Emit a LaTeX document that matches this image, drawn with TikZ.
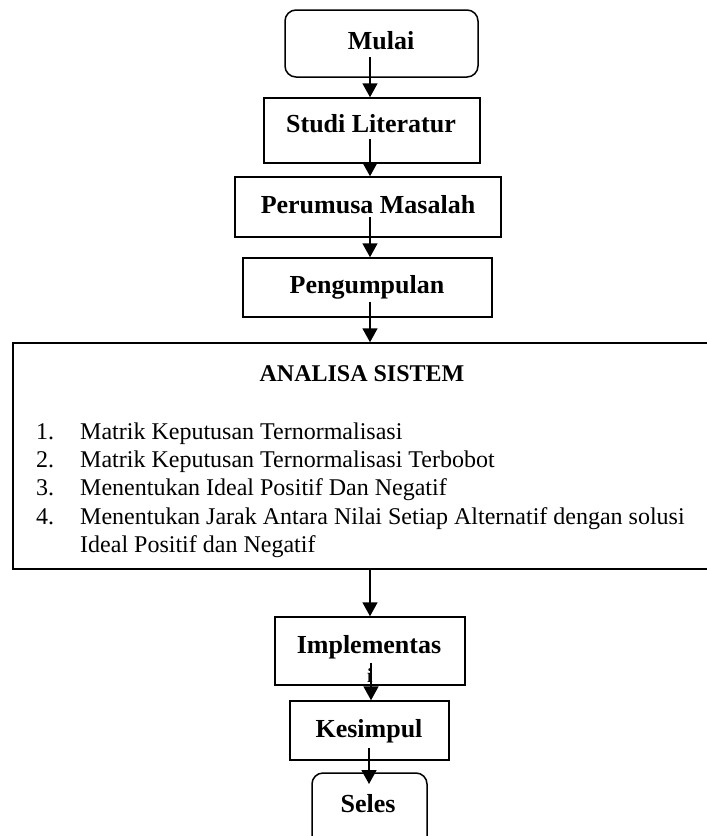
\documentclass[tikz,border=0pt]{standalone}
\usepackage{fontspec}
\setmainfont{Liberation Serif}
\usetikzlibrary{arrows.meta,calc}
\begin{document}
\begin{tikzpicture}[x=1pt,y=-1pt,
  boxshape/.style={draw, line width=1.5pt, inner sep=0pt},
  rbox/.style={boxshape, rounded corners=11pt},
  bt/.style={font=\fontsize{26}{30}\selectfont\bfseries, anchor=base, inner sep=0pt},
  lt/.style={font=\fontsize{24}{28}\selectfont, anchor=base west, inner sep=0pt},
  arr/.style={line width=1.8pt, -{Triangle[length=14pt,width=15pt]}}]
\useasboundingbox (0,0) rectangle (707,836);
\clip (0,0) rectangle (707,836);
% boxes
\node[rbox, minimum width=193pt, minimum height=67pt] (mulai) at (381.5,43.5) {};
\node[boxshape, minimum width=216pt, minimum height=65pt] (studi) at (372,130.5) {};
\node[boxshape, minimum width=266pt, minimum height=60pt] (rumus) at (368,207) {};
\node[boxshape, minimum width=249pt, minimum height=59pt] (kumpul) at (367.5,287.5) {};
\node[boxshape, minimum width=710pt, minimum height=226pt] (analisa) at (368,456) {};
\node[boxshape, minimum width=190pt, minimum height=68pt] (impl) at (370,651) {};
\node[boxshape, minimum width=159pt, minimum height=59pt] (simpul) at (369.5,730.5) {};
\node[rbox, minimum width=115pt, minimum height=80pt] (seles) at (369.5,813) {};
% texts
\node[bt] (tmulai) at (381,49) {Mulai};
\node[bt] (tstudi) at (371,132) {Studi Literatur};
\node[bt] (trumus) at (368,213) {Perumusa Masalah};
\node[bt] (tkumpul) at (367,293) {Pengumpulan};
\node[bt, font=\fontsize{24}{28}\selectfont\bfseries] (tanalisa) at (362,381) {ANALISA SISTEM};
\node[lt] (n1) at (36,439) {1.};
\node[lt] (l1) at (80,439) {Matrik Keputusan Ternormalisasi};
\node[lt] (n2) at (36,467) {2.};
\node[lt] (l2) at (80,467) {Matrik Keputusan Ternormalisasi Terbobot};
\node[lt] (n3) at (36,495) {3.};
\node[lt] (l3) at (80,495) {Menentukan Ideal Positif Dan Negatif};
\node[lt] (n4) at (36,524) {4.};
\node[lt] (l4) at (80,524) {Menentukan Jarak Antara Nilai Setiap Alternatif dengan solusi};
\node[lt] (l5) at (80,552) {Ideal Positif dan Negatif};
\node[bt] (timpl) at (369,653) {Implementas};
\node[bt, font=\fontsize{20}{24}\selectfont\bfseries] (timpl2) at (370,682) {i};
\node[bt] (tsimpul) at (369,737) {Kesimpul};
\node[bt] (tseles) at (368,812) {Seles};
% arrow start points
\coordinate (ax) at (370,0);
\coordinate (s1) at (370,57);
\coordinate (s2) at (370,139);
\coordinate (s3) at (370,217);
\coordinate (s4) at (370,302);
\coordinate (s6) at (371,663);
\coordinate (s7) at (369,748);
\coordinate (e7) at (369,784);
% arrows
\draw[arr] (s1) -- (ax|-studi.north);
\draw[arr] (s2) -- (ax|-rumus.north);
\draw[arr] (s3) -- (ax|-kumpul.north);
\draw[arr] (s4) -- (ax|-analisa.north);
\draw[arr] (ax|-analisa.south) -- (ax|-impl.north);
\draw[arr] (s6) -- (s6|-simpul.north);
\draw[arr] (s7) -- (e7);
\end{tikzpicture}
\end{document}
